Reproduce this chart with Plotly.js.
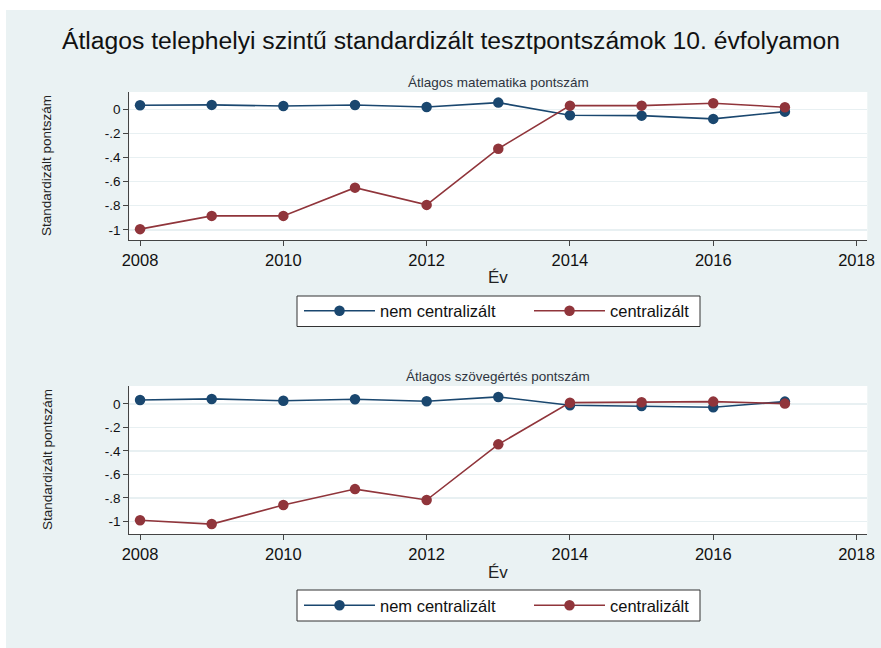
<!DOCTYPE html>
<html>
<head>
<meta charset="utf-8">
<script src="https://cdn.plot.ly/plotly-3.0.1.min.js"></script>
<style>
  html, body { margin: 0; padding: 0; background: #ffffff; }
  #chart { position: absolute; left: 6px; top: 10px; width: 875px; height: 638px; }
</style>
</head>
<body>
<div id="chart"></div>
<script>
// ---- data ----
var years = [2008, 2009, 2010, 2011, 2012, 2013, 2014, 2015, 2016, 2017];
var mathNonCentral = [0.033, 0.036, 0.027, 0.035, 0.019, 0.055, -0.050, -0.053, -0.080, -0.020];
var mathCentral    = [-0.994, -0.884, -0.884, -0.650, -0.793, -0.327, 0.030, 0.030, 0.050, 0.017];
var readNonCentral = [0.034, 0.043, 0.028, 0.040, 0.023, 0.060, -0.011, -0.017, -0.028, 0.020];
var readCentral    = [-0.990, -1.023, -0.861, -0.725, -0.818, -0.344, 0.011, 0.014, 0.020, 0.003];
var seriesNames = ["nem centralizált", "centralizált"];
var yTickVals = [0, -0.2, -0.4, -0.6, -0.8, -1];
var yTickText = ["0", "-.2", "-.4", "-.6", "-.8", "-1"];
var xTickVals = [2008, 2010, 2012, 2014, 2016, 2018];
var mainTitle = "Átlagos telephelyi szintű standardizált tesztpontszámok 10. évfolyamon";
var panelTitles = ["Átlagos matematika pontszám", "Átlagos szövegértés pontszám"];
var yTitle = "Standardizált pontszám";
var xTitle = "Év";

// ---- styles ----
var BLUE = "#1a476f", RED = "#90353b";
var FONT = "Liberation Sans, Arial, sans-serif";
var W = 875, H = 638, OX = 6, OY = 10;
function px(x) { return (x - OX) / W; }
function py(y) { return 1 - (y - OY) / H; }

function tr(y, name, color, xa, ya, legend) {
  return {
    x: years, y: y, name: name, type: "scatter", mode: "lines+markers",
    line: { color: color, width: 1.6 },
    marker: { color: color, size: 10.5 },
    xaxis: xa, yaxis: ya, legend: legend, showlegend: true
  };
}

var data = [
  tr(mathNonCentral, seriesNames[0], BLUE, "x", "y", "legend"),
  tr(mathCentral, seriesNames[1], RED, "x", "y", "legend3"),
  tr(readNonCentral, seriesNames[0], BLUE, "x2", "y2", "legend2"),
  tr(readCentral, seriesNames[1], RED, "x2", "y2", "legend4")
];

function xAxis(anchor) {
  return {
    anchor: anchor, domain: [px(129.3), px(867.3)], range: [2007.85, 2018.15],
    tickvals: xTickVals, ticks: "outside", ticklen: 5, tickwidth: 1, tickcolor: "#444",
    showline: true, linecolor: "#444", linewidth: 1, showgrid: false, zeroline: false,
    tickfont: { family: FONT, size: 16.5, color: "#111" }, fixedrange: true
  };
}
function yAxis(anchor, top, bottom, range) {
  return {
    anchor: anchor, domain: [py(bottom), py(top)], range: range,
    tickvals: yTickVals, ticktext: yTickText, ticks: "outside", ticklen: 5, tickwidth: 1, tickcolor: "#444",
    showline: true, linecolor: "#444", linewidth: 1, showgrid: true, gridcolor: "#e8f0f2", gridwidth: 1.5,
    zeroline: false, tickfont: { family: FONT, size: 13.5, color: "#111" }, fixedrange: true
  };
}

function legendCfg(leftX, midY) {
  return {
    orientation: "h", x: px(leftX), y: py(midY), xanchor: "left", yanchor: "middle",
    bgcolor: "rgba(0,0,0,0)", borderwidth: 0,
    font: { family: FONT, size: 16.5, color: "#111" },
    itemwidth: 71, traceorder: "normal",
    itemclick: false, itemdoubleclick: false
  };
}

function legendBox(top, bottom) {
  return { type: "rect", xref: "paper", yref: "paper", layer: "above",
    x0: px(297), x1: px(700), y0: py(bottom), y1: py(top),
    fillcolor: "#ffffff", line: { color: "#333", width: 1 } };
}

var ann = [];
function addAnn(text, x, y, size, angle, color) {
  ann.push({ text: text, x: px(x), y: py(y), xref: "paper", yref: "paper",
    xanchor: "center", yanchor: "middle", showarrow: false, textangle: angle || 0,
    font: { family: FONT, size: size, color: color || "#222" } });
}
addAnn(panelTitles[0], 498, 82, 13.5, 0, "#2e3440");
addAnn(panelTitles[1], 498, 377, 13.5, 0, "#2e3440");
addAnn(yTitle, 47, 166, 13.5, -90);
addAnn(yTitle, 47, 460, 13.5, -90);
addAnn(xTitle, 498, 277, 17);
addAnn(xTitle, 498, 572, 17);

var layout = {
  width: W, height: H,
  margin: { l: 0, r: 0, t: 0, b: 0 },
  paper_bgcolor: "#eaf2f3", plot_bgcolor: "#ffffff",
  title: { text: mainTitle, x: px(451), xanchor: "center", y: py(40), yref: "paper", yanchor: "middle",
    font: { family: FONT, size: 24.7, color: "#111" } },
  xaxis: xAxis("y"),
  yaxis: yAxis("x", 92, 240, [-1.084, 0.143]),
  xaxis2: xAxis("y2"),
  yaxis2: yAxis("x2", 386, 534.3, [-1.11, 0.153]),
  legend: legendCfg(299, 311),
  legend3: legendCfg(529, 311),
  legend2: legendCfg(299, 605.5),
  legend4: legendCfg(529, 605.5),
  shapes: [legendBox(296, 326.5), legendBox(590, 621)],
  annotations: ann,
  showlegend: true
};

Plotly.newPlot("chart", data, layout, { displayModeBar: false, staticPlot: true });
</script>
</body>
</html>
